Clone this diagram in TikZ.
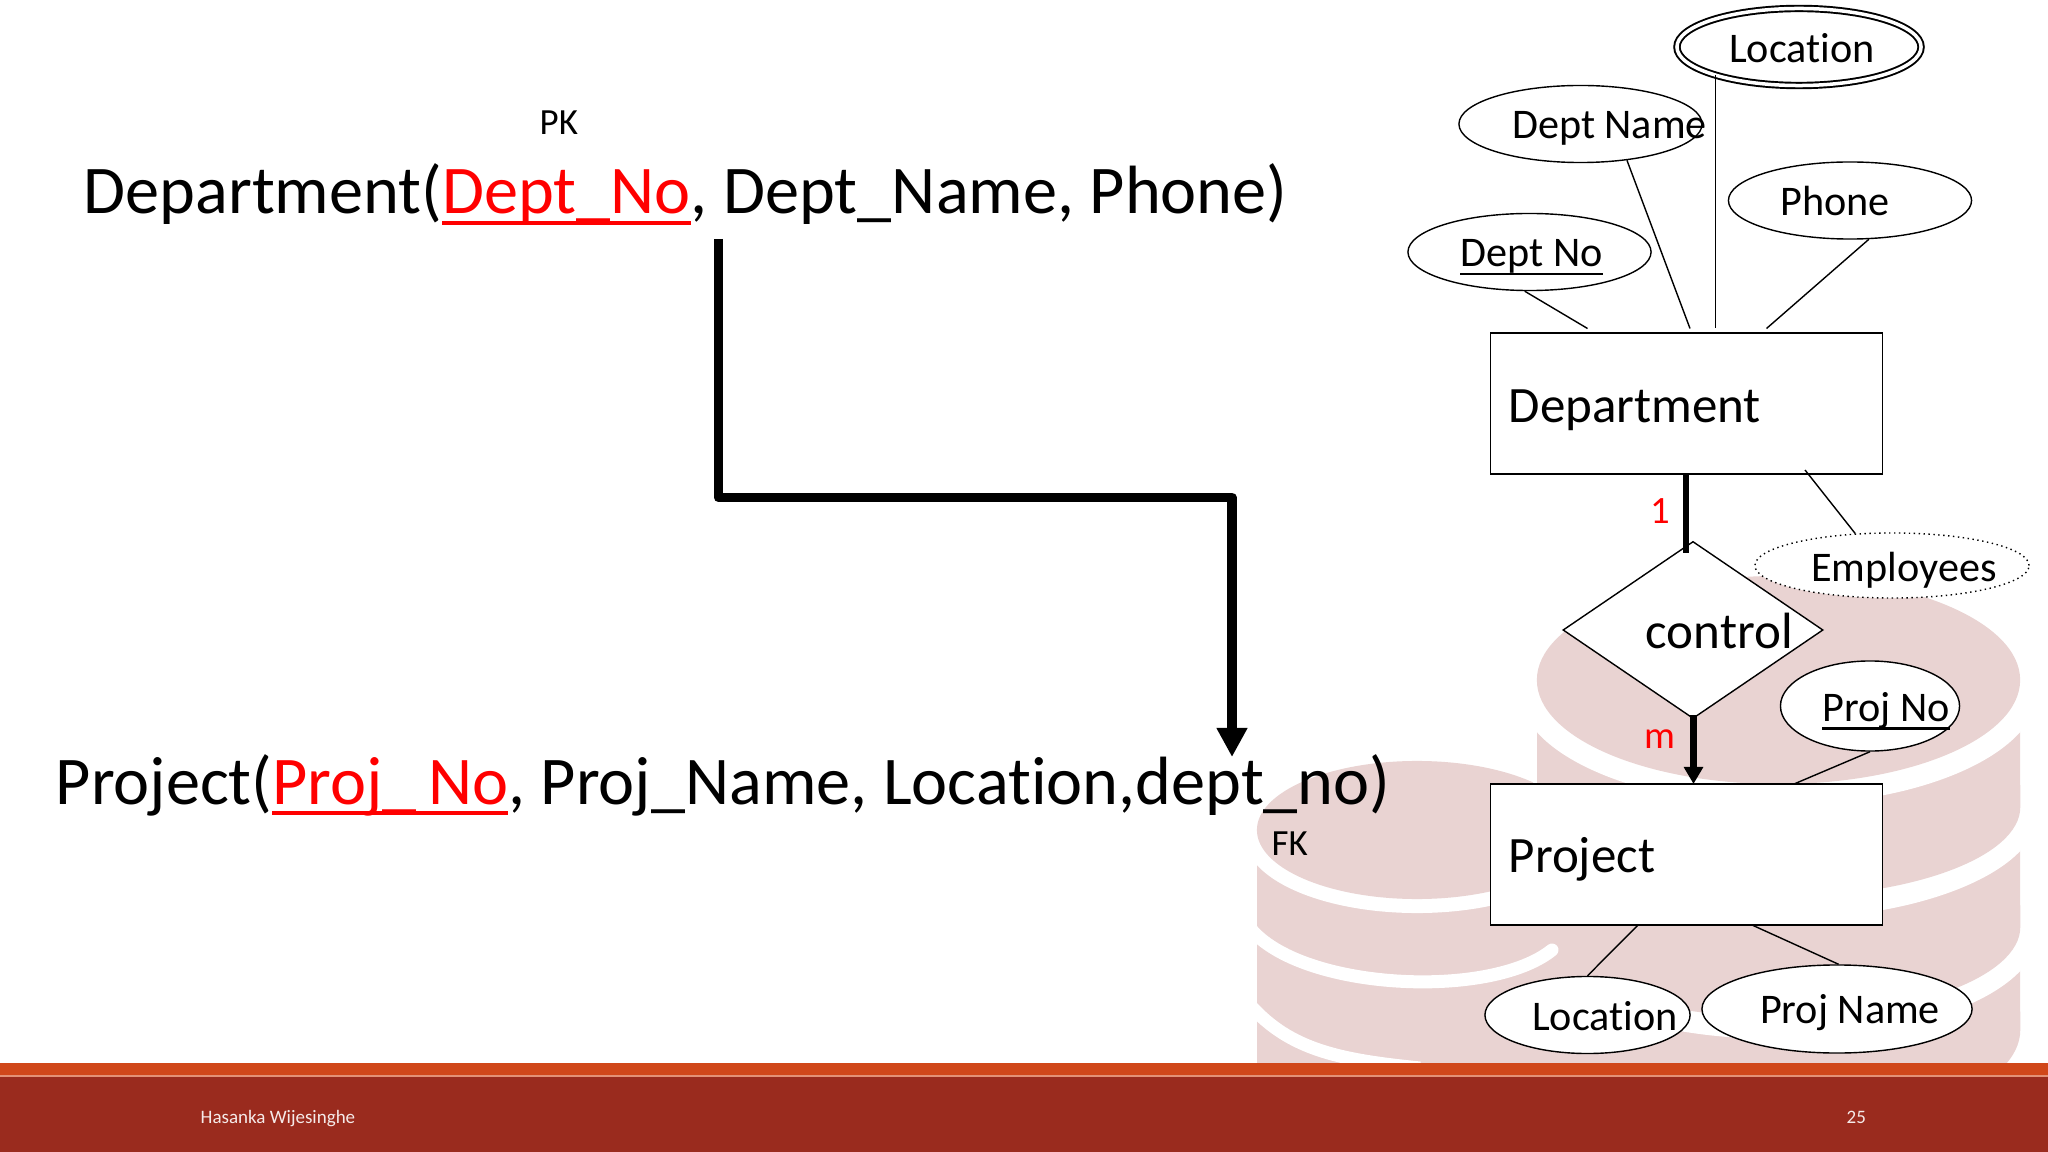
\documentclass[tikz,border=0pt]{standalone}
\usepackage{fontspec}
\setmainfont[Ligatures=NoCommon]{Carlito}
\usepackage{xcolor}
\usetikzlibrary{arrows.meta, positioning}
\usetikzlibrary{shapes.geometric}
\definecolor{dbpink}{HTML}{E9D3D2}
\definecolor{baramber}{HTML}{D0471A}
\definecolor{barred}{HTML}{9A2B1E}
\newsavebox\keybox
\newcommand{\ulkey}[3]{\sbox\keybox{#3}\rlap{\rule[#1]{\wd\keybox}{#2}}\usebox\keybox}

\begin{document}
\begin{tikzpicture}[
    x=0.01cm, y=-0.01cm,
    thin line/.style={line width=0.4pt},
    thick link/.style={line width=0.065cm},
    entity/.style={draw, thin line, fill=white, rectangle, inner sep=0pt,
        minimum width=3.92cm, minimum height=1.41cm},
    relship/.style={draw, thin line, fill=white, diamond, aspect=1.47, inner sep=0pt,
        minimum width=2.6cm, minimum height=1.77cm},
    attr/.style={draw, thin line, fill=white, ellipse, inner sep=0pt,
        minimum width=2.43cm, minimum height=0.77cm},
    relation/.style={inner sep=0pt, anchor=base west, font=\fontsize{19.42pt}{22pt}\selectfont},
    erlabel/.style={inner sep=0pt, anchor=base, font=\fontsize{12pt}{14pt}\selectfont},
    boxlabel/.style={inner sep=0pt, anchor=base west, font=\fontsize{14.5pt}{16pt}\selectfont},
    keytag/.style={inner sep=0pt, anchor=base west, font=\fontsize{10.5pt}{12pt}\selectfont},
    card/.style={inner sep=0pt, anchor=base, text=red, font=\fontsize{11pt}{12pt}\selectfont},
    footer/.style={inner sep=0pt, anchor=base west, text=white!90!barred,
        font=\fontsize{5.4pt}{7pt}\selectfont}]
    \useasboundingbox (0,0) rectangle (2048,1152);

    % big database
    \begin{scope}
        \clip (1534,500) rectangle (2022,1063);
        \foreach \bandtop/\bandbot/\bandry/\gapry in {931/1030/1.0/1.08, 811/927/0.9/1.08, 689/807/0.9/1.16} {
            \fill[dbpink] (1537,\bandtop) -- (1537,\bandbot)
                arc[start angle=180, end angle=360, x radius=2.415cm, y radius=\bandry cm] -- (2020,\bandtop) -- cycle;
            \fill[white] (1778.5,\bandtop) ellipse [x radius=2.6cm, y radius=\gapry cm];
        }
        \fill[dbpink] (1778.5,680) ellipse [x radius=2.415cm, y radius=1.04cm];
    \end{scope}

    % small database
    \begin{scope}
        \clip (1250,750) rectangle (1533,1063) (1533,790) rectangle (1600,1063);
        \fill[dbpink] (1257,830) rectangle (1577,1063);
        \draw[white, line width=0.13cm, line cap=round] (1250,928) .. controls (1300,990) and (1490,1000) .. (1552,950);
        \draw[white, line width=0.13cm] (1250,1005) .. controls (1290,1050) and (1340,1060) .. (1420,1068);
        \fill[white] (1417,837) ellipse [x radius=1.72cm, y radius=0.76cm];
        \fill[dbpink] (1417,830) ellipse [x radius=1.6cm, y radius=0.69cm];
    \end{scope}

    % footer
    \fill[baramber] (0,1063) rectangle (2048,1075);
    \fill[baramber!60!white] (0,1075) rectangle (2048,1077);
    \fill[barred] (0,1077) rectangle (2048,1152);
    \node[footer] (author) at (200,1123) {Hasanka Wijesinghe};
    \node[footer] (pageno) at (1846,1123) {25};

    % relations
    \node[relation] (deptrel) at (83,214) {Department(\textcolor{red}{\ulkey{-0.105cm}{0.035cm}{Dept\_No}}, Dept\_Name, Phone)};
    \node[relation] (projrel) at (55,804) {Project(\textcolor{red}{\ulkey{-0.105cm}{0.035cm}{Proj\_\,No}}, Proj\_Name, Location,dept\_no)};
    \node[keytag] (pk) at (539,135) {PK};
    \node[keytag] (fk) at (1271,855) {FK};

    \coordinate (fkstart) at (718.5,239);
    \coordinate (fkbend) at (1232,497.5);
    \coordinate (fkend) at (1232,757);
    \draw[line width=0.095cm, line join=round, -{Triangle[length=0.29cm,width=0.29cm]}] (fkstart) |- (fkbend) -- (fkend);

    % er diagram
    \node[entity] (department) at (1686.5,403.5) {};
    \node[entity] (project) at (1686.5,854.5) {};
    \node[relship] (control) at (1693,630) {};
    \node[boxlabel] (departmentlbl) at (1508,422.5) {Department};
    \node[boxlabel] (projectlbl) at (1508,872) {Project};
    \node[boxlabel] (controllbl) at (1645,648) {control};

    \node[attr, double, line width=0.55pt, double distance=0.035cm, minimum width=2.44cm, minimum height=0.77cm] (location) at (1799,47) {};
    \node[attr] (deptname) at (1580.5,124) {};
    \node[attr] (phone) at (1850,200.5) {};
    \node[attr] (deptno) at (1529.5,252) {};
    \node[attr, densely dotted, minimum width=2.74cm, minimum height=0.65cm] (employees) at (1892,565.5) {};
    \node[attr, minimum width=1.79cm, minimum height=0.9cm] (projno) at (1870,706) {};
    \node[attr, minimum width=2.05cm, minimum height=0.77cm] (projloc) at (1587.5,1015) {};
    \node[attr, minimum width=2.7cm, minimum height=0.88cm] (projname) at (1837,1009) {};

    \node[erlabel] (locationlbl) at (1802,63) {Location};
    \node[erlabel] (deptnamelbl) at (1609.5,139) {Dept Name};
    \node[erlabel] (phonelbl) at (1835,216) {Phone};
    \node[erlabel] (deptnolbl) at (1531.5,267) {\ulkey{-0.085cm}{0.025cm}{Dept No}};
    \node[erlabel] (employeeslbl) at (1904,581) {Employees};
    \node[erlabel] (projnolbl) at (1886,721) {\ulkey{-0.085cm}{0.025cm}{Proj No}};
    \node[erlabel] (projloclbl) at (1605,1030) {Location};
    \node[erlabel] (projnamelbl) at (1850,1023) {Proj Name};

    \coordinate (c1) at (1587.5,328.5);
    \coordinate (c2) at (1690,328.5);
    \coordinate (c3) at (1715.5,328.5);
    \coordinate (c4) at (1766.5,328.5);
    \coordinate (c5) at (1805,470);
    \coordinate (c6) at (1686,553);
    \coordinate (c7) at (1693.5,715);
    \coordinate (c8) at (1638,925);
    \coordinate (c9) at (1752,925);
    \coordinate (c10) at (1794,784);
    \coordinate (c11) at (1686,474);
    \coordinate (c12) at (1693.5,784);

    \draw[thin line] (deptno.263) -- (c1);
    \draw[thin line] (deptname.322) -- (c2);
    \draw[thin line] (location.198.4 -| c3) -- (c3);
    \draw[thin line] (phone.296) -- (c4);
    \draw[thin line] (c5) -- (employees.139);
    \draw[thin line] (projno.270) -- (c10);
    \draw[thin line] (c8) -- (projloc.90);
    \draw[thin line] (c9) -- (projname.88);

    \draw[thick link] (c11) -- (c6);
    \draw[thick link, -{Triangle[length=0.17cm,width=0.185cm]}] (c7) -- (c12);
    \node[card] (one) at (1660,524) {1};
    \node[card] (many) at (1660,748) {m};
\end{tikzpicture}
\end{document}
